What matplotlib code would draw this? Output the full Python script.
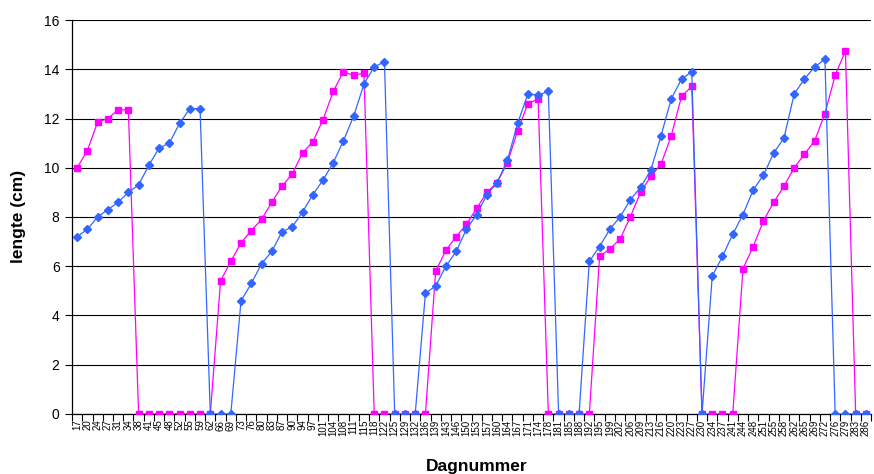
import matplotlib
matplotlib.use("Agg")
import matplotlib.pyplot as plt
import numpy as np

# day numbers on the category axis
days = [17, 20, 24, 27, 31, 34, 38, 41, 45, 48, 52, 55, 59, 62, 66, 69, 73, 76, 80, 83,
        87, 90, 94, 97, 101, 104, 108, 111, 115, 118, 122, 125, 129, 132, 136, 139, 143, 146, 150, 153,
        157, 160, 164, 167, 171, 174, 178, 181, 185, 188, 192, 195, 199, 202, 206, 209, 213, 216, 220, 223,
        227, 230, 234, 237, 241, 244, 248, 251, 255, 258, 262, 265, 269, 272, 276, 279, 283, 286]

# blue series (diamonds)
blue = [7.2, 7.5, 8.0, 8.3, 8.6, 9.0, 9.3, 10.1, 10.8, 11.0, 11.8, 12.4, 12.4,
        0, 0, 0,
        4.6, 5.3, 6.1, 6.6, 7.4, 7.6, 8.2, 8.9, 9.5, 10.2, 11.1, 12.1, 13.4, 14.1, 14.3,
        0, 0, 0,
        4.9, 5.2, 6.0, 6.6, 7.5, 8.1, 8.9, 9.4, 10.3, 11.8, 13.0, 12.95, 13.1,
        0, 0, 0,
        6.2, 6.8, 7.5, 8.0, 8.7, 9.2, 9.9, 11.3, 12.8, 13.6, 13.9,
        0,
        5.6, 6.4, 7.3, 8.1, 9.1, 9.7, 10.6, 11.2, 13.0, 13.6, 14.1, 14.4,
        0, 0, 0, 0]

# magenta series (squares)
magenta = [10.0, 10.7, 11.85, 12.0, 12.35, 12.35,
           0, 0, 0, 0, 0, 0, 0, 0,
           5.4, 6.2, 6.95, 7.45, 7.9, 8.6, 9.25, 9.75, 10.6, 11.05, 11.95, 13.1, 13.9, 13.75, 13.85,
           0, 0, 0, 0, 0, 0,
           5.8, 6.65, 7.2, 7.7, 8.35, 9.0, 9.4, 10.2, 11.5, 12.6, 12.8,
           0, 0, 0, 0, 0,
           6.4, 6.7, 7.1, 8.0, 9.0, 9.65, 10.15, 11.3, 12.9, 13.3,
           0, 0, 0, 0,
           5.9, 6.8, 7.85, 8.6, 9.25, 10.0, 10.55, 11.1, 12.2, 13.75, 14.75,
           0, 0]

BLUE, MAG = "#3366FF", "#FF00FF"

plt.rcParams["font.family"] = ["Liberation Sans", "DejaVu Sans"]

fig = plt.figure(figsize=(8.74, 4.74), dpi=100)
ax = fig.add_axes([0.0824, 0.1266, 0.9142, 0.8312])

x = np.arange(len(days))
ax.plot(x, magenta, color=MAG, lw=0.9, marker="s", ms=4.4, mec=MAG, mfc=MAG, zorder=3)
ax.plot(x, blue, color=BLUE, lw=0.9, marker="D", ms=4.0, mec=BLUE, mfc=BLUE, zorder=4)

ax.set_xlim(-0.5, len(days) - 0.5)
ax.set_ylim(0, 16)
ax.set_yticks(np.arange(0, 17, 2))
ax.grid(axis="y", color="black", lw=0.8)
ax.set_axisbelow(True)

ax.set_xticks(x)
ax.set_xticklabels([str(d) for d in days], rotation=90, fontsize=7)
ax.set_xticks(np.arange(-0.5, len(days), 1), minor=True)
ax.tick_params(axis="x", which="major", length=0, pad=4)
ax.tick_params(axis="x", which="minor", length=5, width=0.8, direction="out")
ax.tick_params(axis="y", labelsize=10, length=5, width=0.8, pad=4)

for s in ["top", "right"]:
    ax.spines[s].set_visible(False)
for s in ["left", "bottom"]:
    ax.spines[s].set_color("black")
    ax.spines[s].set_linewidth(0.9)

fig.text(0.0206, 0.544, "lengte (cm)", rotation=90, ha="center", va="center",
         fontsize=12.5, fontweight="bold")
fig.text(0.545, 0.031, "Dagnummer", ha="center", va="top", fontsize=12.5, fontweight="bold")

fig.savefig("out.png", dpi=100, facecolor="white")
